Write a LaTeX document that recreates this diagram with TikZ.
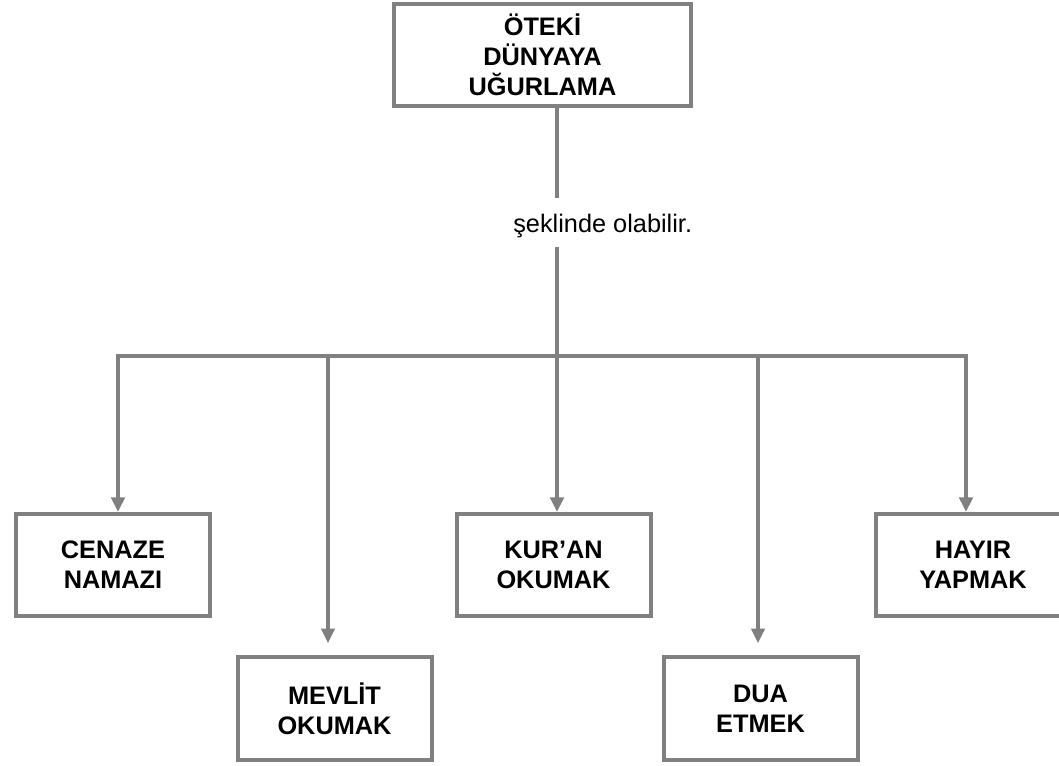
\documentclass[tikz,border=0pt]{standalone}
\usepackage{fontspec}
\setmainfont{Liberation Sans}
\usepackage{xcolor}
\usetikzlibrary{arrows.meta}
\definecolor{lineGray}{RGB}{128,128,128}

\begin{document}
\begin{tikzpicture}[x=0.75pt, y=-0.75pt,
    box/.style={draw=lineGray, line width=3pt, fill=white, align=center,
      minimum width=145.5pt, minimum height=76.5pt, inner sep=0pt,
      font=\fontsize{19pt}{22.5pt}\selectfont\bfseries},
    conn/.style={draw=lineGray, line width=3pt},
    tip/.style={-{Triangle[width=10pt, length=11pt]}}]
    \useasboundingbox (0,0) rectangle (1059,766);
    % boxes
    \node[box, minimum width=222.75pt] (top) at (542.5,55) {ÖTEKİ\\DÜNYAYA\\UĞURLAMA};
    \node[box] (cenaze) at (113,565) {CENAZE\\NAMAZI};
    \node[box] (kuran) at (553.5,565) {KUR’AN\\OKUMAK};
    \node[box] (hayir) at (973,565) {HAYIR\\YAPMAK};
    \node[box, minimum height=77pt] (mevlit) at (334.5,708.5) {MEVLİT\\OKUMAK};
    \node[box, minimum height=77pt] (dua) at (760.5,708.5) {DUA\\ETMEK};
    % trunk and label
    \node[anchor=base west, inner sep=0pt, font=\fontsize{19pt}{22.5pt}\selectfont] (label) at (513,233) {şeklinde olabilir.};
    \coordinate (gapA) at (557,198);
    \coordinate (gapB) at (557,247);
    \coordinate (trunk) at (557,356);
    \draw[conn] (top.south -| trunk) -- (gapA);
    \draw[conn] (gapB) -- (trunk);
    \draw[conn, line cap=rect] (118,356) -- (966,356);
    % drops
    \foreach \x/\t/\s in {118/cenaze/0pt, 328/mevlit/9pt, 557/kuran/0pt, 758/dua/9pt, 966/hayir/0pt}
      \draw[conn, tip, shorten >=\s] (\x,356) -- (\x,356 |- \t.north);
\end{tikzpicture}
\end{document}
